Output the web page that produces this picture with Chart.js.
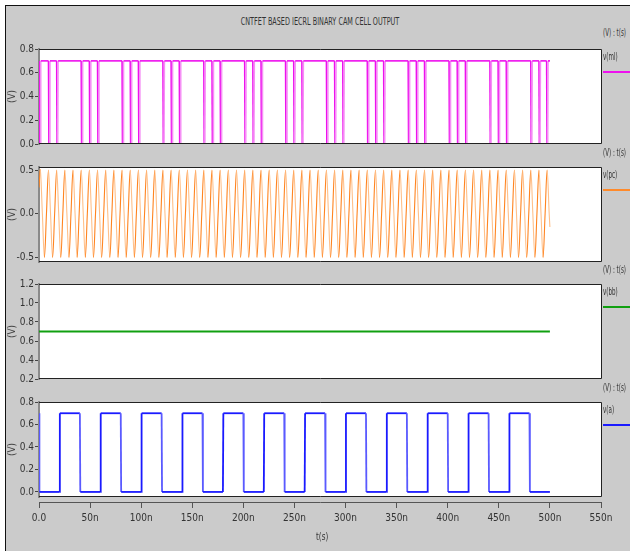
<!DOCTYPE html>
<html>
<head>
<meta charset="utf-8">
<script src="https://cdn.jsdelivr.net/npm/chart.js@4.4.0/dist/chart.umd.min.js"></script>
<style>
  body { margin: 0; background: #fff; width: 630px; height: 551px; overflow: hidden; position: relative; }
  #frame { position: absolute; left: 5px; top: 5px; width: 625px; height: 546px; background: #cbcbcb;
           border-left: 1px solid #111; border-top: 1px solid #111; }
  canvas { position: absolute; left: 0; }
  .txt { position: absolute; font-family: 'Liberation Sans Narrow', 'DejaVu Sans Condensed', sans-serif;
         font-size: 10px; color: #333; white-space: nowrap; line-height: 10px;
         transform-origin: left center; transform: scaleX(0.62); }
  .key { position: absolute; left: 603px; width: 27px; height: 2px; }
  #title { left: 320px; top: 17px; transform-origin: center center; transform: translateX(-50%) scaleX(0.72); }
</style>
</head>
<body>
<div id="frame"></div>
<div class="txt" id="title">CNTFET BASED IECRL BINARY CAM CELL OUTPUT</div>
<canvas id="mlChart" width="630" height="111" style="top:41px"></canvas>
<canvas id="pcChart" width="630" height="111" style="top:159px"></canvas>
<canvas id="bbChart" width="630" height="111" style="top:276px"></canvas>
<canvas id="aChart" width="630" height="111" style="top:394px"></canvas>
<canvas id="axisChart" width="630" height="61" style="top:490px"></canvas>
<div class="txt" style="left:316px; top:532px; transform: scaleX(0.8)">t(s)</div>
<div id="legends"></div>
<script>
// time axis (ns)
const xTicks = [0, 50, 100, 150, 200, 250, 300, 350, 400, 450, 500, 550];
const tEnd = 500;

// v(ml): high level with short discharge dips (times in ns)
const mlHigh = 0.7;
const mlLow = 0.0;
const mlDips = [1, 10, 18, 42, 50, 58, 82, 90, 98, 122, 130, 138, 162, 170, 178,
  202, 210, 218, 242, 250, 258, 282, 290, 298, 322, 330, 338, 362, 370, 378,
  402, 410, 418, 442, 450, 458, 482, 490, 497.5];
const mlTicks = [0.0, 0.2, 0.4, 0.6, 0.8];

// v(pc): samples every 2 ns starting at 1.3 ns
const pcT0 = 1.3;
const pcStep = 2;
const pcStart = 0.3;
const pcEnd = -0.15;
const pcValues = [
  0.5, 0, -0.5, 0, 0.5, 0, -0.5, 0, 0.5, 0, -0.5, 0, 0.5, 0, -0.5, 0,
  0.5, 0, -0.5, 0, 0.5, 0, -0.5, 0, 0.5, 0, -0.5, 0, 0.5, 0, -0.5, 0,
  0.5, 0, -0.5, 0, 0.5, 0, -0.5, 0, 0.5, 0, -0.5, 0, 0.5, 0, -0.5, 0,
  0.5, 0, -0.5, 0, 0.5, 0, -0.5, 0, 0.5, 0, -0.5, 0, 0.5, 0, -0.5, 0,
  0.5, 0, -0.5, 0, 0.5, 0, -0.5, 0, 0.5, 0, -0.5, 0, 0.5, 0, -0.5, 0,
  0.5, 0, -0.5, 0, 0.5, 0, -0.5, 0, 0.5, 0, -0.5, 0, 0.5, 0, -0.5, 0,
  0.5, 0, -0.5, 0, 0.5, 0, -0.5, 0, 0.5, 0, -0.5, 0, 0.5, 0, -0.5, 0,
  0.5, 0, -0.5, 0, 0.5, 0, -0.5, 0, 0.5, 0, -0.5, 0, 0.5, 0, -0.5, 0,
  0.5, 0, -0.5, 0, 0.5, 0, -0.5, 0, 0.5, 0, -0.5, 0, 0.5, 0, -0.5, 0,
  0.5, 0, -0.5, 0, 0.5, 0, -0.5, 0, 0.5, 0, -0.5, 0, 0.5, 0, -0.5, 0,
  0.5, 0, -0.5, 0, 0.5, 0, -0.5, 0, 0.5, 0, -0.5, 0, 0.5, 0, -0.5, 0,
  0.5, 0, -0.5, 0, 0.5, 0, -0.5, 0, 0.5, 0, -0.5, 0, 0.5, 0, -0.5, 0,
  0.5, 0, -0.5, 0, 0.5, 0, -0.5, 0, 0.5, 0, -0.5, 0, 0.5, 0, -0.5, 0,
  0.5, 0, -0.5, 0, 0.5, 0, -0.5, 0, 0.5, 0, -0.5, 0, 0.5, 0, -0.5, 0,
  0.5, 0, -0.5, 0, 0.5, 0, -0.5, 0, 0.5, 0, -0.5, 0, 0.5, 0, -0.5, 0,
  0.5, 0, -0.5, 0, 0.5, 0, -0.5, 0,
  0.5, 0
];
const pcTicks = [-0.5, 0.0, 0.5];

// v(bb): constant
const bbTimes = [0, 500];
const bbValues = [0.7, 0.7];
const bbTicks = [0.2, 0.4, 0.6, 0.8, 1.0, 1.2];

// v(a): square wave edges (ns)
const aStart = 0.7;
const aLow = 0.0;
const aHigh = 0.7;
const aRises = [20, 60, 100, 140, 180, 220, 260, 300, 340, 380, 420, 460];
const aFalls = [40, 80, 120, 160, 200, 240, 280, 320, 360, 400, 440, 480];
const aTicks = [0.0, 0.2, 0.4, 0.6, 0.8];

Chart.defaults.font.family = "'Liberation Sans Narrow', 'DejaVu Sans Condensed', sans-serif";
Chart.defaults.font.size = 10;
Chart.defaults.color = "#333";

const boxPlugin = {
  id: "box",
  beforeDraw(chart) {
    const a = chart.chartArea;
    const ctx = chart.ctx;
    ctx.save();
    ctx.fillStyle = "#fff";
    ctx.fillRect(a.left, a.top, a.right - a.left, a.bottom - a.top);
    ctx.restore();
  },
  afterDraw(chart) {
    const a = chart.chartArea;
    const ctx = chart.ctx;
    ctx.save();
    ctx.strokeStyle = "#222";
    ctx.lineWidth = 1;
    ctx.beginPath();
    ctx.moveTo(a.left, a.top + 0.5);
    ctx.lineTo(a.right + 0.5, a.top + 0.5);
    ctx.lineTo(a.right + 0.5, a.bottom - 0.5);
    ctx.lineTo(a.left, a.bottom - 0.5);
    ctx.stroke();
    ctx.restore();
  },
};

// rising and falling strokes are shaded differently, as in the simulator output
function edgeColor(up, down) {
  return (ctx) => (ctx.p1.parsed.y > ctx.p0.parsed.y ? up
    : ctx.p1.parsed.y < ctx.p0.parsed.y ? down : undefined);
}

function makePanel(id, points, color, width, yMin, yMax, ticks, tension, segColor) {
  return new Chart(document.getElementById(id), {
    type: "line",
    data: {
      datasets: [{
        data: points,
        borderColor: color,
        borderWidth: width,
        pointRadius: 0,
        tension: tension,
        fill: false,
        segment: segColor ? { borderColor: segColor } : undefined,
      }],
    },
    options: {
      responsive: false,
      animation: false,
      devicePixelRatio: 1,
      layout: { padding: { top: 8, bottom: 8, left: 0, right: 29 } },
      plugins: { legend: { display: false }, tooltip: { enabled: false } },
      scales: {
        x: { type: "linear", min: 0, max: 550, display: false },
        y: {
          min: yMin,
          max: yMax,
          afterBuildTicks: (scale) => { scale.ticks = ticks.map((v) => ({ value: v })); },
          afterFit: (scale) => { scale.width = 39; },
          ticks: { padding: 1, callback: (v) => Number(v).toFixed(1), color: "#333" },
          grid: { drawOnChartArea: false, tickLength: 4, color: "#444" },
          border: { display: true, color: "#8a8a8a", width: 2 },
          title: { display: true, text: "(V)", color: "#444", padding: { top: 6, bottom: 0 } },
        },
      },
    },
    plugins: [boxPlugin],
  });
}

// build series points from the data arrays
const mlPoints = [{ x: 0, y: mlHigh }];
mlDips.forEach((t) => {
  mlPoints.push({ x: t - 0.7, y: mlHigh }, { x: t - 0.3, y: mlLow },
                { x: t + 0.3, y: mlLow }, { x: t + 0.7, y: mlHigh });
});
mlPoints.push({ x: tEnd, y: mlHigh });

const pcPoints = [{ x: 0, y: pcStart }];
pcValues.forEach((v, i) => pcPoints.push({ x: pcT0 + i * pcStep, y: v }));
pcPoints.push({ x: tEnd, y: pcEnd });

const bbPoints = bbTimes.map((t, i) => ({ x: t, y: bbValues[i] }));

const aPoints = [{ x: 0, y: aStart }, { x: 0.4, y: aLow }];
aRises.forEach((r, i) => {
  aPoints.push({ x: r, y: aLow }, { x: r + 0.4, y: aHigh },
               { x: aFalls[i], y: aHigh }, { x: aFalls[i] + 0.4, y: aLow });
});
aPoints.push({ x: tEnd, y: aLow });

makePanel("mlChart", mlPoints, "#ee10ee", 1.6, 0, 0.8, mlTicks, 0, edgeColor("#f590f5", "#ee10ee"));
makePanel("pcChart", pcPoints, "#ff8a2a", 1.1, -0.55, 0.535, pcTicks, 0.35, edgeColor("#ff8420", "#ffc08a"));
makePanel("bbChart", bbPoints, "#10a010", 2, 0.2, 1.2, bbTicks, 0);
makePanel("aChart", aPoints, "#1a1aff", 1.8, -0.045, 0.8, aTicks, 0, edgeColor("#1a1aff", "#5a5aff"));

// shared time axis below the last panel
new Chart(document.getElementById("axisChart"), {
  type: "line",
  data: { datasets: [] },
  options: {
    responsive: false,
    animation: false,
    devicePixelRatio: 1,
    layout: { padding: { top: 6, bottom: 0, left: 39, right: 29 } },
    plugins: { legend: { display: false }, tooltip: { enabled: false } },
    scales: {
      x: {
        type: "linear",
        min: 0,
        max: 550,
        afterBuildTicks: (scale) => { scale.ticks = xTicks.map((v) => ({ value: v })); },
        afterFit: (scale) => { scale.height = 49; },
        ticks: { padding: 4, maxRotation: 0, callback: (v) => (v === 0 ? "0.0" : v + "n") },
        grid: { drawOnChartArea: false, tickLength: 6, color: "#555" },
        border: { display: true, color: "#555", width: 1 },
      },
      y: { display: false },
    },
  },
});

// right side labels
const legendItems = [
  { name: "v(ml)", color: "#ee10ee", top: 49 },
  { name: "v(pc)", color: "#ff8a2a", top: 167 },
  { name: "v(bb)", color: "#10a010", top: 284 },
  { name: "v(a)", color: "#1a1aff", top: 402 },
];
const box = document.getElementById("legends");
legendItems.forEach((item, i) => {
  const unit = document.createElement("div");
  unit.className = "txt";
  unit.style.left = "603px";
  unit.style.top = (item.top - (i === 0 ? 21 : 19)) + "px";
  unit.textContent = "(V) : t(s)";
  box.appendChild(unit);
  const name = document.createElement("div");
  name.className = "txt";
  name.style.left = "603px";
  name.style.top = (item.top + 3) + "px";
  name.textContent = item.name;
  box.appendChild(name);
  const key = document.createElement("div");
  key.className = "key";
  key.style.top = (item.top + 22) + "px";
  key.style.background = item.color;
  box.appendChild(key);
});
</script>
</body>
</html>
